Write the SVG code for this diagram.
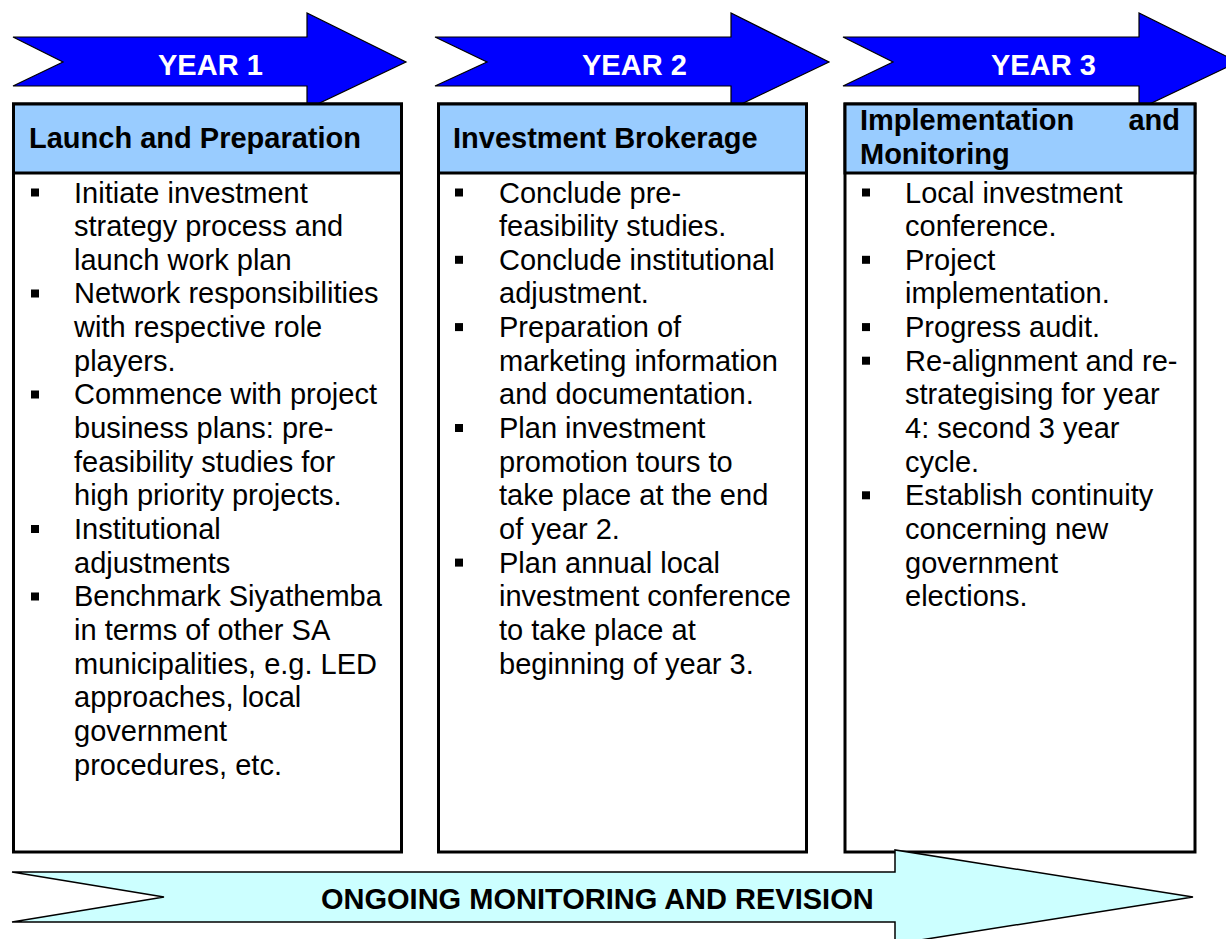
<svg xmlns="http://www.w3.org/2000/svg" width="1226" height="939" viewBox="0 0 1226 939">
<style>
.yr{fill:#0000FF;stroke:#000;stroke-width:1.2;stroke-linejoin:miter}
.yrt{font-family:"Liberation Sans",Arial,sans-serif;font-size:29px;font-weight:bold;fill:#fff}
.box{fill:#fff;stroke:#000;stroke-width:3}
.hdr{fill:#99CCFF;stroke:#000;stroke-width:3}
.ht{font-family:"Liberation Sans",Arial,sans-serif;font-size:29px;font-weight:bold;fill:#000}
.bt{font-family:"Liberation Sans",Arial,sans-serif;font-size:29px;fill:#000}
.bul{fill:#000}
.ong{fill:#CCFFFF;stroke:#000;stroke-width:1.5}
</style>
<rect width="1226" height="939" fill="#fff"/>
<g id="year1">
<polygon class="yr" points="13,37 307,37 307,13 406,62 307,109 307,86 13,86 63,62"/>
<text class="yrt" x="158" y="75">YEAR 1</text>
</g>
<g id="year2">
<polygon class="yr" points="435,37 731,37 731,13 829,62 731,109 731,86 435,86 487,62"/>
<text class="yrt" x="582" y="75">YEAR 2</text>
</g>
<g id="year3">
<polygon class="yr" points="843,37 1139,37 1139,13 1238,62 1139,109 1139,86 843,86 893,62"/>
<text class="yrt" x="991" y="75">YEAR 3</text>
</g>
<g id="box1">
<rect class="box" x="13.5" y="104" width="388" height="748"/>
<rect class="hdr" x="13.5" y="104" width="388" height="69"/>
<text class="ht" x="29" y="148">Launch and Preparation</text>
<rect class="bul" x="31" y="188.5" width="8" height="8"/>
<rect class="bul" x="31" y="289.5" width="8" height="8"/>
<rect class="bul" x="31" y="390.5" width="8" height="8"/>
<rect class="bul" x="31" y="525" width="8" height="8"/>
<rect class="bul" x="31" y="592.5" width="8" height="8"/>
<text class="bt">
<tspan x="74" y="202.5">Initiate investment</tspan>
<tspan x="74" y="236.1">strategy process and</tspan>
<tspan x="74" y="269.8">launch work plan</tspan>
<tspan x="74" y="303.4">Network responsibilities</tspan>
<tspan x="74" y="337.1">with respective role</tspan>
<tspan x="74" y="370.7">players.</tspan>
<tspan x="74" y="404.4">Commence with project</tspan>
<tspan x="74" y="438">business plans: pre-</tspan>
<tspan x="74" y="471.7">feasibility studies for</tspan>
<tspan x="74" y="505.3">high priority projects.</tspan>
<tspan x="74" y="539">Institutional</tspan>
<tspan x="74" y="572.6">adjustments</tspan>
<tspan x="74" y="606.3">Benchmark Siyathemba</tspan>
<tspan x="74" y="639.9">in terms of other SA</tspan>
<tspan x="74" y="673.6">municipalities, e.g. LED</tspan>
<tspan x="74" y="707.2">approaches, local</tspan>
<tspan x="74" y="740.9">government</tspan>
<tspan x="74" y="774.5">procedures, etc.</tspan>
</text>
</g>
<g id="box2">
<rect class="box" x="438.5" y="104" width="368" height="748"/>
<rect class="hdr" x="438.5" y="104" width="368" height="69"/>
<text class="ht" x="453" y="148">Investment Brokerage</text>
<rect class="bul" x="455" y="188.5" width="8" height="8"/>
<rect class="bul" x="455" y="255.8" width="8" height="8"/>
<rect class="bul" x="455" y="323.1" width="8" height="8"/>
<rect class="bul" x="455" y="424" width="8" height="8"/>
<rect class="bul" x="455" y="558.6" width="8" height="8"/>
<text class="bt">
<tspan x="499" y="202.5">Conclude pre-</tspan>
<tspan x="499" y="236.1">feasibility studies.</tspan>
<tspan x="499" y="269.8">Conclude institutional</tspan>
<tspan x="499" y="303.4">adjustment.</tspan>
<tspan x="499" y="337.1">Preparation of</tspan>
<tspan x="499" y="370.7">marketing information</tspan>
<tspan x="499" y="404.4">and documentation.</tspan>
<tspan x="499" y="438">Plan investment</tspan>
<tspan x="499" y="471.7">promotion tours to</tspan>
<tspan x="499" y="505.3">take place at the end</tspan>
<tspan x="499" y="539">of year 2.</tspan>
<tspan x="499" y="572.6">Plan annual local</tspan>
<tspan x="499" y="606.3">investment conference</tspan>
<tspan x="499" y="639.9">to take place at</tspan>
<tspan x="499" y="673.6">beginning of year 3.</tspan>
</text>
</g>
<g id="box3">
<rect class="box" x="845" y="104" width="350" height="748"/>
<rect class="hdr" x="845" y="104" width="350" height="69"/>
<text class="ht" x="860" y="130">Implementation</text>
<text class="ht" x="1180" y="130" text-anchor="end">and</text>
<text class="ht" x="860" y="163.5">Monitoring</text>
<rect class="bul" x="862" y="188.5" width="8" height="8"/>
<rect class="bul" x="862" y="255.8" width="8" height="8"/>
<rect class="bul" x="862" y="323.1" width="8" height="8"/>
<rect class="bul" x="862" y="356.7" width="8" height="8"/>
<rect class="bul" x="862" y="491.3" width="8" height="8"/>
<text class="bt">
<tspan x="905" y="202.5">Local investment</tspan>
<tspan x="905" y="236.1">conference.</tspan>
<tspan x="905" y="269.8">Project</tspan>
<tspan x="905" y="303.4">implementation.</tspan>
<tspan x="905" y="337.1">Progress audit.</tspan>
<tspan x="905" y="370.7">Re-alignment and re-</tspan>
<tspan x="905" y="404.4">strategising for year</tspan>
<tspan x="905" y="438">4: second 3 year</tspan>
<tspan x="905" y="471.7">cycle.</tspan>
<tspan x="905" y="505.3">Establish continuity</tspan>
<tspan x="905" y="539">concerning new</tspan>
<tspan x="905" y="572.6">government</tspan>
<tspan x="905" y="606.3">elections.</tspan>
</text>
</g>
<g id="ongoing">
<polygon class="ong" points="12,872 895,872 895,850 1193,897 895,944 895,922 12,922 164,897"/>
<text class="ht" x="321" y="909">ONGOING MONITORING AND REVISION</text>
</g>
</svg>
